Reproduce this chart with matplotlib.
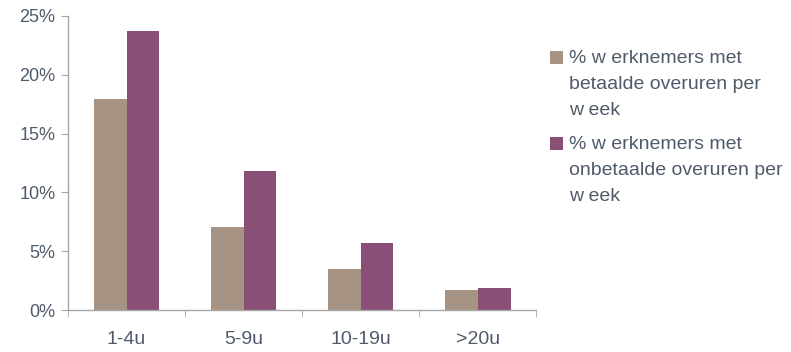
import matplotlib
matplotlib.use("Agg")
import matplotlib.pyplot as plt
from matplotlib.patches import Rectangle
import numpy as np

CATEGORIES = ["1-4u", "5-9u", "10-19u", ">20u"]
BETAALD = [17.9, 7.1, 3.5, 1.75]
ONBETAALD = [23.7, 11.8, 5.7, 1.9]
LABELS = [["% w erknemers met", "betaalde overuren per", "w eek"],
          ["% w erknemers met", "onbetaalde overuren per", "w eek"]]

BEIGE = "#a69384"
PURPLE = "#8a4f76"
TEXT = "#4f5b6b"
AXIS = "#a6a6a6"

plt.rcParams["font.family"] = ["Liberation Sans", "DejaVu Sans"]

W, H = 791, 352
fig = plt.figure(figsize=(W / 100, H / 100), dpi=100)
ax = fig.add_axes([0.086, 0.119, 0.592, 0.836])

x = np.arange(len(CATEGORIES))
w = 0.28
ax.bar(x - w / 2, BETAALD, w, color=BEIGE)
ax.bar(x + w / 2, ONBETAALD, w, color=PURPLE)

ax.set_xlim(-0.5, len(CATEGORIES) - 0.5)
ax.set_ylim(0, 25)
ax.set_yticks(np.arange(0, 26, 5))
ax.set_yticklabels([f"{v}%" for v in range(0, 26, 5)])
ax.set_xticks(x)
ax.set_xticklabels(CATEGORIES)
ax.set_xticks(np.arange(-0.5, len(CATEGORIES)), minor=True)

for s in ["top", "right"]:
    ax.spines[s].set_visible(False)
for s in ["left", "bottom"]:
    ax.spines[s].set_color(AXIS)
    ax.spines[s].set_linewidth(1.0)

ax.tick_params(axis="x", which="major", length=0, pad=15,
               labelsize=14, labelcolor=TEXT)
ax.tick_params(axis="x", which="minor", length=5, color=AXIS, direction="out")
ax.tick_params(axis="y", length=5, color=AXIS, pad=4,
               labelsize=13, labelcolor=TEXT)

# legend drawn by hand: square beside the first line, wrapped label text
for colour, lines, top in zip([BEIGE, PURPLE], LABELS, [51, 137]):
    fig.add_artist(Rectangle((550 / W, 1 - (top + 13) / H), 13 / W, 13 / H,
                             transform=fig.transFigure, color=colour, lw=0))
    for i, line in enumerate(lines):
        base = top + 12 + 26 * i
        fig.text(569 / W, 1 - base / H, line, fontsize=14, color=TEXT,
                 va="baseline", ha="left")

fig.savefig("out.png", dpi=100)
